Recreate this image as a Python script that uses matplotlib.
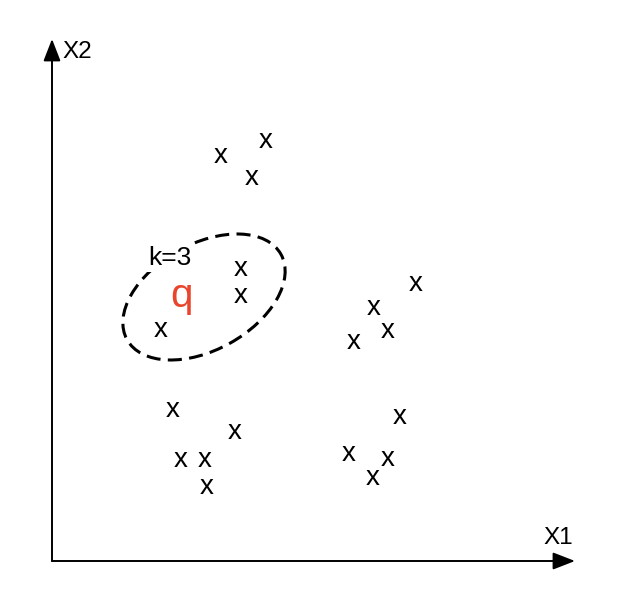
import matplotlib
matplotlib.use("Agg")
import matplotlib.pyplot as plt
from matplotlib.patches import Ellipse

plt.rcParams['font.family'] = ['Liberation Sans', 'DejaVu Sans']

# sample points (X1, X2)
x1 = [16.9, 21.4, 20.0,
      18.9, 18.9, 10.9,
      36.4, 32.2, 33.6, 30.2,
      12.1, 18.3, 12.9, 15.3, 15.5,
      34.8, 29.7, 33.6, 32.1]
x2 = [40.5, 42.0, 38.3,
      29.2, 26.5, 23.1,
      27.7, 25.3, 23.0, 21.9,
      15.1, 12.9, 10.1, 10.1, 7.4,
      14.4, 10.7, 10.2, 8.3]

query = (12.95, 26.5)
query_label = "q"
k_label = "k=3"
k_pos = (11.75, 30.3)
neigh_center = (20.4 - 5.2, 26.4)
neigh_width = 17.6
neigh_height = 10.6
neigh_angle = 29

fig = plt.figure(figsize=(6.22, 5.90), dpi=100)
ax = fig.add_axes([0, 0, 1, 1])
ax.set_xlim(-5.2, 57.0)
ax.set_ylim(-2.9, 56.1)
ax.set_aspect('equal')
ax.axis('off')

arrow = dict(arrowstyle='-|>,head_length=0.9,head_width=0.35', mutation_scale=15,
             lw=1.4, color='black', shrinkA=0, shrinkB=0)
ax.annotate('', xy=(0, 52.2), xytext=(0, 0), arrowprops=arrow)
ax.annotate('', xy=(52.3, 0), xytext=(0, 0), arrowprops=arrow)
ax.text(1.0, 50.9, 'X2', fontsize=17.5, ha='left', va='center')
ax.text(49.1, 2.3, 'X1', fontsize=17.5, ha='left', va='center')

for a, b in zip(x1, x2):
    ax.text(a, b, 'x', fontsize=20, ha='center', va='center')

ax.text(query[0], query[1], query_label, fontsize=29, color='#E8452C',
        ha='center', va='center', zorder=4)
ax.text(k_pos[0], k_pos[1], k_label, fontsize=19, ha='center', va='center', zorder=4,
        bbox=dict(facecolor='white', edgecolor='none', pad=1.5))

ell = Ellipse(neigh_center, neigh_width, neigh_height, angle=neigh_angle,
              fill=False, lw=2.2, edgecolor='black', linestyle=(0, (4.6, 2.4)), zorder=3)
ax.add_patch(ell)

fig.savefig('out.png', dpi=100, facecolor='white')
